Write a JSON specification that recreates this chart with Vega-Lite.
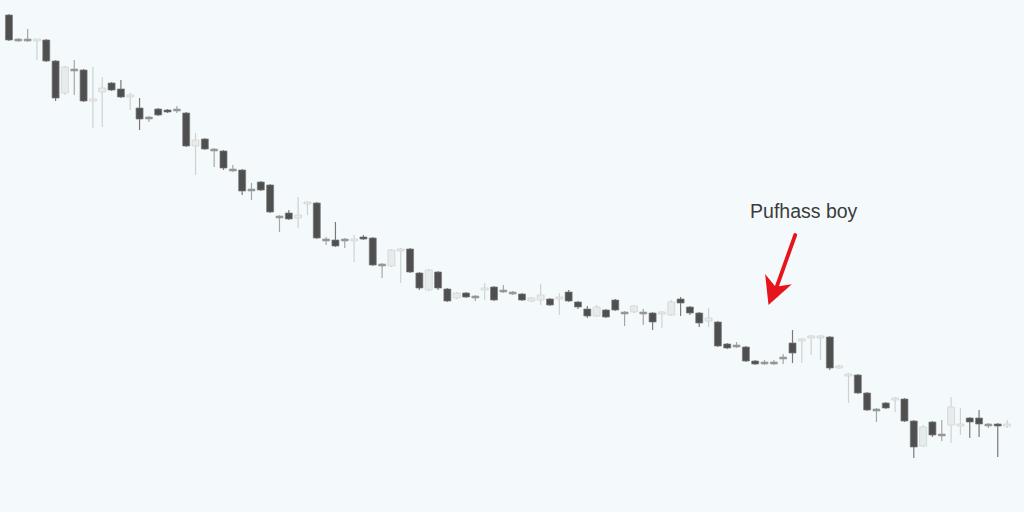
{
  "$schema": "https://vega.github.io/schema/vega-lite/v6.json",
  "width": 1024,
  "height": 512,
  "autosize": {"type": "fit", "contains": "padding"},
  "padding": 0,
  "background": "#f4fafb",
  "config": {"view": {"stroke": null}},
  "datasets": {
    "candles": [
      {"i":0,"d":"down","o":497,"c":472,"h":498,"l":471},
      {"i":1,"d":"flat","o":473,"c":471,"h":474,"l":470},
      {"i":2,"d":"flat","o":473,"c":471,"h":483,"l":470},
      {"i":3,"d":"up","o":471,"c":473,"h":473,"l":452},
      {"i":4,"d":"down","o":472,"c":451,"h":473,"l":450},
      {"i":5,"d":"down","o":451,"c":414,"h":452,"l":411},
      {"i":6,"d":"up","o":419,"c":445,"h":446,"l":417},
      {"i":7,"d":"flat","o":443,"c":441,"h":452,"l":417},
      {"i":8,"d":"down","o":442,"c":411,"h":443,"l":410},
      {"i":9,"d":"up","o":411,"c":413,"h":445,"l":384},
      {"i":10,"d":"up","o":420,"c":424,"h":435,"l":385},
      {"i":11,"d":"down","o":429,"c":422,"h":430,"l":421},
      {"i":12,"d":"down","o":423,"c":415,"h":432,"l":414},
      {"i":13,"d":"up","o":415,"c":417,"h":419,"l":402},
      {"i":14,"d":"down","o":404,"c":393,"h":414,"l":382},
      {"i":15,"d":"flat","o":395,"c":393,"h":396,"l":390},
      {"i":16,"d":"down","o":403,"c":397,"h":404,"l":396},
      {"i":17,"d":"down","o":402,"c":400,"h":403,"l":399},
      {"i":18,"d":"flat","o":403,"c":401,"h":406,"l":399},
      {"i":19,"d":"down","o":399,"c":366,"h":400,"l":365},
      {"i":20,"d":"up","o":366,"c":372,"h":379,"l":337},
      {"i":21,"d":"down","o":373,"c":363,"h":374,"l":362},
      {"i":22,"d":"flat","o":363,"c":361,"h":364,"l":345},
      {"i":23,"d":"down","o":361,"c":344,"h":362,"l":342},
      {"i":24,"d":"flat","o":343,"c":341,"h":347,"l":340},
      {"i":25,"d":"down","o":342,"c":321,"h":343,"l":317},
      {"i":26,"d":"flat","o":323,"c":321,"h":329,"l":312},
      {"i":27,"d":"down","o":330,"c":322,"h":331,"l":321},
      {"i":28,"d":"down","o":327,"c":300,"h":328,"l":299},
      {"i":29,"d":"flat","o":296,"c":294,"h":297,"l":280},
      {"i":30,"d":"down","o":299,"c":293,"h":302,"l":292},
      {"i":31,"d":"up","o":294,"c":297,"h":315,"l":284},
      {"i":32,"d":"up","o":308,"c":310,"h":311,"l":297},
      {"i":33,"d":"down","o":309,"c":274,"h":310,"l":273},
      {"i":34,"d":"flat","o":273,"c":271,"h":275,"l":267},
      {"i":35,"d":"down","o":272,"c":266,"h":290,"l":265},
      {"i":36,"d":"flat","o":273,"c":271,"h":274,"l":264},
      {"i":37,"d":"up","o":271,"c":273,"h":277,"l":250},
      {"i":38,"d":"down","o":275,"c":273,"h":277,"l":272},
      {"i":39,"d":"down","o":274,"c":247,"h":275,"l":246},
      {"i":40,"d":"flat","o":248,"c":246,"h":249,"l":234},
      {"i":41,"d":"up","o":246,"c":262,"h":263,"l":245},
      {"i":42,"d":"up","o":261,"c":263,"h":264,"l":229},
      {"i":43,"d":"down","o":263,"c":240,"h":264,"l":239},
      {"i":44,"d":"down","o":239,"c":224,"h":240,"l":222},
      {"i":45,"d":"up","o":222,"c":242,"h":243,"l":221},
      {"i":46,"d":"down","o":240,"c":224,"h":241,"l":222},
      {"i":47,"d":"down","o":223,"c":211,"h":224,"l":210},
      {"i":48,"d":"up","o":214,"c":219,"h":220,"l":213},
      {"i":49,"d":"down","o":219,"c":215,"h":220,"l":214},
      {"i":50,"d":"flat","o":216,"c":214,"h":217,"l":211},
      {"i":51,"d":"up","o":222,"c":224,"h":229,"l":212},
      {"i":52,"d":"down","o":225,"c":212,"h":226,"l":211},
      {"i":53,"d":"flat","o":222,"c":220,"h":227,"l":219},
      {"i":54,"d":"flat","o":220,"c":218,"h":221,"l":217},
      {"i":55,"d":"down","o":218,"c":212,"h":219,"l":211},
      {"i":56,"d":"up","o":211,"c":214,"h":215,"l":210},
      {"i":57,"d":"up","o":212,"c":217,"h":228,"l":207},
      {"i":58,"d":"down","o":213,"c":207,"h":214,"l":206},
      {"i":59,"d":"up","o":213,"c":215,"h":219,"l":197},
      {"i":60,"d":"down","o":220,"c":211,"h":222,"l":210},
      {"i":61,"d":"down","o":210,"c":205,"h":211,"l":203},
      {"i":62,"d":"down","o":203,"c":196,"h":206,"l":194},
      {"i":63,"d":"up","o":196,"c":205,"h":207,"l":195},
      {"i":64,"d":"down","o":202,"c":195,"h":203,"l":194},
      {"i":65,"d":"down","o":212,"c":202,"h":213,"l":201},
      {"i":66,"d":"flat","o":200,"c":198,"h":201,"l":186},
      {"i":67,"d":"up","o":200,"c":206,"h":207,"l":199},
      {"i":68,"d":"flat","o":200,"c":198,"h":203,"l":187},
      {"i":69,"d":"down","o":199,"c":190,"h":200,"l":182},
      {"i":70,"d":"up","o":198,"c":200,"h":201,"l":184},
      {"i":71,"d":"up","o":197,"c":210,"h":212,"l":196},
      {"i":72,"d":"down","o":213,"c":209,"h":215,"l":196},
      {"i":73,"d":"down","o":205,"c":199,"h":206,"l":197},
      {"i":74,"d":"down","o":199,"c":189,"h":200,"l":185},
      {"i":75,"d":"up","o":191,"c":194,"h":204,"l":185},
      {"i":76,"d":"down","o":190,"c":166,"h":191,"l":165},
      {"i":77,"d":"down","o":168,"c":164,"h":169,"l":163},
      {"i":78,"d":"flat","o":167,"c":165,"h":170,"l":164},
      {"i":79,"d":"down","o":165,"c":151,"h":166,"l":150},
      {"i":80,"d":"down","o":151,"c":148,"h":152,"l":147},
      {"i":81,"d":"flat","o":150,"c":148,"h":152,"l":147},
      {"i":82,"d":"flat","o":150,"c":148,"h":152,"l":147},
      {"i":83,"d":"flat","o":155,"c":153,"h":158,"l":148},
      {"i":84,"d":"down","o":169,"c":159,"h":182,"l":149},
      {"i":85,"d":"up","o":171,"c":173,"h":174,"l":149},
      {"i":86,"d":"up","o":174,"c":176,"h":177,"l":157},
      {"i":87,"d":"up","o":174,"c":176,"h":177,"l":152},
      {"i":88,"d":"down","o":175,"c":144,"h":176,"l":142},
      {"i":89,"d":"up","o":144,"c":146,"h":147,"l":143},
      {"i":90,"d":"up","o":136,"c":138,"h":139,"l":109},
      {"i":91,"d":"down","o":137,"c":119,"h":138,"l":118},
      {"i":92,"d":"down","o":119,"c":102,"h":120,"l":101},
      {"i":93,"d":"flat","o":103,"c":101,"h":104,"l":90},
      {"i":94,"d":"down","o":109,"c":104,"h":110,"l":103},
      {"i":95,"d":"up","o":112,"c":114,"h":115,"l":100},
      {"i":96,"d":"down","o":113,"c":91,"h":114,"l":90},
      {"i":97,"d":"down","o":91,"c":65,"h":92,"l":54},
      {"i":98,"d":"up","o":66,"c":85,"h":87,"l":65},
      {"i":99,"d":"down","o":90,"c":77,"h":91,"l":75},
      {"i":100,"d":"flat","o":78,"c":76,"h":92,"l":71},
      {"i":101,"d":"up","o":87,"c":105,"h":115,"l":69},
      {"i":102,"d":"up","o":86,"c":88,"h":104,"l":77},
      {"i":103,"d":"down","o":94,"c":90,"h":95,"l":74},
      {"i":104,"d":"down","o":94,"c":88,"h":102,"l":75},
      {"i":105,"d":"flat","o":88,"c":86,"h":89,"l":84},
      {"i":106,"d":"down","o":88,"c":86,"h":89,"l":55},
      {"i":107,"d":"up","o":86,"c":88,"h":92,"l":84}
    ],
    "note": [{"x": 85.2, "y": 300, "label": "Pufhass boy"}],
    "shaft": [{"x": 84.29, "y": 277, "x2": 82.3, "y2": 225}],
    "head": [{"x": 82.0, "y": 221}]
  },
  "layer": [
    {
      "data": {"name": "candles"},
      "mark": {"type": "rule", "strokeWidth": 1.2},
      "encoding": {
        "x": {"field": "i", "type": "quantitative", "axis": null, "scale": {"domain": [-0.425, 108.28], "nice": false, "zero": false}},
        "y": {"field": "h", "type": "quantitative", "axis": null, "scale": {"domain": [0, 512], "nice": false, "zero": false}},
        "y2": {"field": "l"},
        "stroke": {"field": "d", "type": "nominal", "legend": null, "scale": {"domain": ["down", "up", "flat"], "range": ["#7a7a7a", "#cdd1d1", "#a4a6a6"]}}
      }
    },
    {
      "data": {"name": "candles"},
      "mark": {"type": "bar", "size": 7, "strokeWidth": 0.7},
      "encoding": {
        "x": {"field": "i", "type": "quantitative"},
        "y": {"field": "o", "type": "quantitative"},
        "y2": {"field": "c"},
        "fill": {"field": "d", "type": "nominal", "legend": null, "scale": {"domain": ["down", "up", "flat"], "range": ["#4f4f4f", "#e8ebeb", "#8e9090"]}},
        "stroke": {"field": "d", "type": "nominal", "legend": null}
      }
    },
    {
      "data": {"name": "shaft"},
      "mark": {"type": "rule", "color": "#e8141c", "strokeWidth": 3.8, "strokeCap": "round"},
      "encoding": {
        "x": {"field": "x", "type": "quantitative"},
        "y": {"field": "y", "type": "quantitative"},
        "x2": {"field": "x2"},
        "y2": {"field": "y2"}
      }
    },
    {
      "data": {"name": "head"},
      "mark": {"type": "point", "shape": "M0,-1L0.95,0.85L0,0.3L-0.95,0.85Z", "size": 900, "filled": true, "color": "#e8141c", "opacity": 1, "angle": 201},
      "encoding": {
        "x": {"field": "x", "type": "quantitative"},
        "y": {"field": "y", "type": "quantitative"}
      }
    },
    {
      "data": {"name": "note"},
      "mark": {"type": "text", "font": "Liberation Sans", "fontSize": 19.5, "color": "#3c3c3c", "align": "center", "baseline": "middle"},
      "encoding": {
        "x": {"field": "x", "type": "quantitative"},
        "y": {"field": "y", "type": "quantitative"},
        "text": {"field": "label"}
      }
    }
  ]
}
